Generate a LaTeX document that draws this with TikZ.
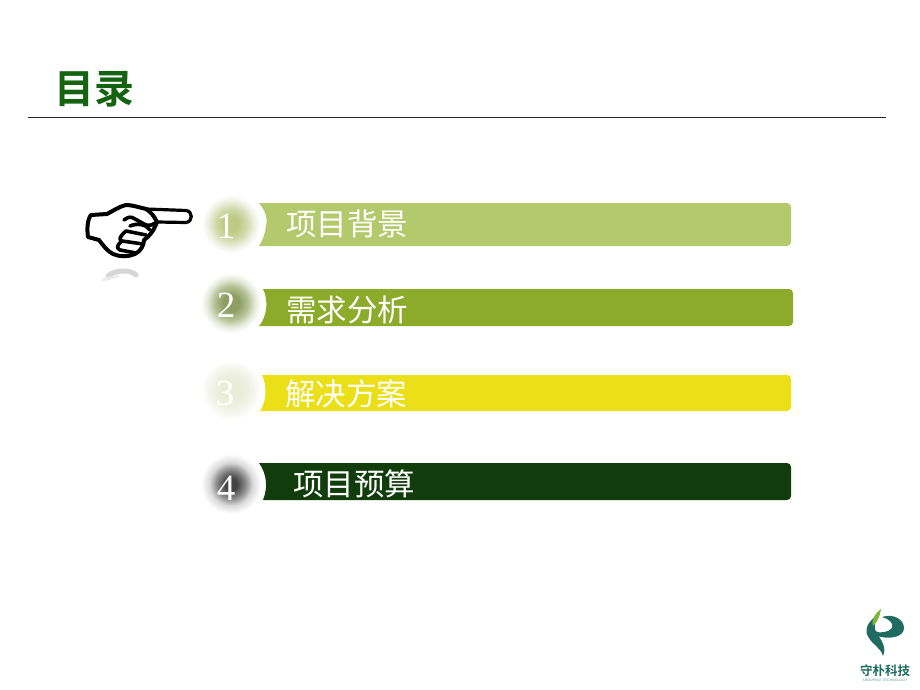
\documentclass[tikz,border=0pt]{standalone}
\usepackage{fontspec}
\setmainfont{Liberation Serif}
\newfontfamily\cjk{Noto Sans CJK SC}
\newfontfamily\cjkb{Noto Sans CJK SC Bold}
\newfontfamily\sansf{Liberation Sans}
\definecolor{barA}{HTML}{B4C86C}
\definecolor{barB}{HTML}{8CAB2B}
\definecolor{barC}{HTML}{EBDF18}
\definecolor{barD}{HTML}{113C0B}
\definecolor{titlegreen}{HTML}{136311}
\definecolor{logoteal}{HTML}{1F6B62}
\definecolor{logoleaf}{HTML}{7DB53A}
\definecolor{haloAa}{HTML}{BFCB85}
\definecolor{haloAb}{HTML}{D3DBB0}
\definecolor{haloAc}{HTML}{EEF1E2}
\definecolor{haloBa}{HTML}{8F9F63}
\definecolor{haloBb}{HTML}{B5C195}
\definecolor{haloBc}{HTML}{E6EADB}
\definecolor{haloCa}{HTML}{E9EDD8}
\definecolor{haloCb}{HTML}{EFF2E3}
\definecolor{haloCc}{HTML}{F7F8F1}
\definecolor{haloDa}{HTML}{444444}
\definecolor{haloDb}{HTML}{8A8A8A}
\definecolor{haloDc}{HTML}{DADADA}
\pgfdeclareradialshading{softhaloA}{\pgfpoint{0bp}{0bp}}{color(0bp)=(haloAa); color(7bp)=(haloAa); color(14bp)=(haloAb); color(20bp)=(haloAc); color(25bp)=(white); color(50bp)=(white)}
\pgfdeclareradialshading{softhaloB}{\pgfpoint{0bp}{0bp}}{color(0bp)=(haloBa); color(7bp)=(haloBa); color(14bp)=(haloBb); color(20bp)=(haloBc); color(25bp)=(white); color(50bp)=(white)}
\pgfdeclareradialshading{softhaloC}{\pgfpoint{0bp}{0bp}}{color(0bp)=(haloCa); color(8bp)=(haloCa); color(15bp)=(haloCb); color(20bp)=(haloCc); color(25bp)=(white); color(50bp)=(white)}
\pgfdeclareradialshading{softhaloD}{\pgfpoint{0bp}{0bp}}{color(0bp)=(haloDa); color(5bp)=(haloDa); color(12bp)=(haloDb); color(18bp)=(haloDc); color(25bp)=(white); color(50bp)=(white)}
\tikzset{
  x=1pt,y=-1pt,
  barlabel/.style={text=white,font=\cjk\fontsize{30.5}{30.5}\selectfont,inner sep=0pt,anchor=west},
  numlabel/.style={text=white,font=\fontsize{37}{37}\selectfont,inner sep=0pt},
  handline/.style={draw=black,line width=3.6pt,line join=round,line cap=round},
}
\begin{document}
\begin{tikzpicture}
\useasboundingbox[fill=white] (0,0) rectangle (920,690);
% title
\node[text=titlegreen,font=\cjkb\fontsize{40}{40}\selectfont,inner sep=0pt] (title) at (94.5,89) {目录};
\coordinate (ruleL) at (28,117.5);
\coordinate (ruleR) at (886,117.5);
\draw[line width=1pt,black!85] (ruleL) -- (ruleR);
% halos
\shade[shading=softhaloA] (231,224) circle (29);
\shade[shading=softhaloB] (231,303) circle (30);
\shade[shading=softhaloC] (231,390) circle (30);
\shade[shading=softhaloD] (231,484) circle (30);
% bars
\fill[barA] (259,203) .. controls (265,210) and (268,218) .. (266,226) .. controls (265,234) and (263,240) .. (259,246) -- (787,246) arc[start angle=90,end angle=0,radius=4] -- ++(0,-35) arc[start angle=0,end angle=-90,radius=4] -- cycle;
\fill[barB] (263,289) .. controls (268,298) and (268,316) .. (259,326) -- (789,326) arc[start angle=90,end angle=0,radius=4] -- ++(0,-29) arc[start angle=0,end angle=-90,radius=4] -- cycle;
\fill[barC] (262,375) .. controls (267,385) and (267,401) .. (260,411) -- (787,411) arc[start angle=90,end angle=0,radius=4] -- ++(0,-28) arc[start angle=0,end angle=-90,radius=4] -- cycle;
\fill[barD] (259,463) .. controls (267,474) and (268,488) .. (263,500) -- (787,500) arc[start angle=90,end angle=0,radius=4] -- ++(0,-29) arc[start angle=0,end angle=-90,radius=4] -- cycle;
% numbers
\node[numlabel] (n1) at (226,226) {1};
\node[numlabel] (n2) at (226,305) {2};
\node[numlabel] (n3) at (225,393) {3};
\node[numlabel] (n4) at (226,488) {4};
% labels
\node[barlabel] (t1) at (286,224) {项目背景};
\node[barlabel] (t2) at (286,310) {需求分析};
\node[barlabel] (t3) at (285,394) {解决方案};
\node[barlabel] (t4) at (293,484) {项目预算};
% hand
\draw[handline,fill=white,line width=3.2pt] (146,209) -- (186,210.5) .. controls (193,211) and (193,222) .. (186,222.5) -- (157,222);
\draw[handline,fill=white,line width=4pt]
  (146,209) .. controls (138,207) and (132,205) .. (126,205)
  .. controls (118,207) and (113,211) .. (107,214) -- (91,215)
  .. controls (87,220) and (87,230) .. (88,237) -- (99,240)
  .. controls (103,245) and (107,251) .. (113,254)
  .. controls (120,257) and (128,257) .. (135,254)
  .. controls (141,251) and (144,245) .. (144,240)
  .. controls (150,236) and (154,230) .. (157,222)
  .. controls (154,216) and (151,212) .. (146,209) -- cycle;
\draw[handline] (124,220) .. controls (128,217) and (131,216) .. (135,219) -- (146,225) .. controls (152,226) and (153,224) .. (155,223);
\draw[handline] (130,226) .. controls (137,223) and (146,224) .. (150,230);
\draw[handline] (126,231) -- (146,235);
\draw[handline] (126,231) .. controls (120,236) and (118,240) .. (122,241) -- (143,244);
\draw[handline] (122,241) .. controls (117,245) and (116,248) .. (120,250) -- (136,253);
% reflection
\draw[black!16,line width=5pt,line cap=round] (108,276) .. controls (114,270) and (130,269) .. (136,275);
\draw[black!8,line width=3pt,line cap=round] (103,280) -- (118,276);
% logo
\fill[logoteal] (878,615) .. controls (866,622) and (864,632) .. (869,638) .. controls (873,645) and (881,648) .. (883,656) .. controls (887,648) and (881,639) .. (877,634) .. controls (873,628) and (875,621) .. (878,615) -- cycle;
\fill[logoteal] (882,617) .. controls (894,613) and (904,620) .. (904,628) .. controls (904,637) and (890,639) .. (882,637) .. controls (878,637) and (876,635) .. (875,631) .. controls (880,634) and (889,632) .. (892,628) .. controls (894,623) and (889,619) .. (882,617) -- cycle;
\fill[logoleaf] (881,609) .. controls (880,616) and (877,623) .. (873,626) .. controls (871,618) and (876,613) .. (881,609) -- cycle;
\node[text=logoteal,font=\cjkb\fontsize{12.5}{12.5}\selectfont,inner sep=0pt] (logotext) at (885,671) {守朴科技};
\node[text=logoteal!70,font=\sansf\fontsize{3.6}{4}\selectfont,inner sep=0pt] (logosub) at (885,680) {SHOUPIAO TECHNOLOGY};
\end{tikzpicture}
\end{document}
